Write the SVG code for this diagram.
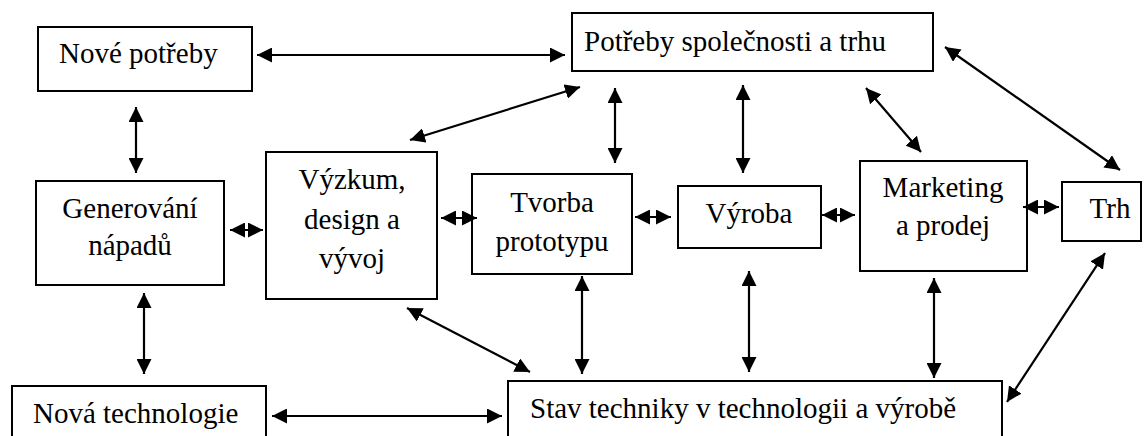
<svg xmlns="http://www.w3.org/2000/svg" width="1144" height="436" viewBox="0 0 1144 436">
  <style>
    .box { fill: #ffffff; stroke: #000000; stroke-width: 2; }
    .lbl { font-family: "Liberation Serif", "Noto Serif", "DejaVu Serif", "Times New Roman", Times, serif; font-size: 29px; fill: #000000; }
    .mid { text-anchor: middle; }
    .conn line { stroke: #000000; stroke-width: 2.2; marker-start: url(#ah); marker-end: url(#ah); }
  </style>
  <defs>
    <marker id="ah" markerUnits="userSpaceOnUse" markerWidth="15" markerHeight="15" refX="15" refY="7.5" orient="auto-start-reverse" viewBox="0 0 15 15">
      <path d="M0,0 L15,7.5 L0,15 z" fill="#000000"/>
    </marker>
  </defs>
  <rect width="1144" height="436" fill="#ffffff"/>

  <g id="nove-potreby">
    <rect class="box" x="38" y="27" width="214" height="64"/>
    <text class="lbl" x="59" y="63">Nové potřeby</text>
  </g>
  <g id="potreby-spolecnosti">
    <rect class="box" x="572" y="13" width="361" height="58"/>
    <text class="lbl" x="584" y="51">Potřeby společnosti a trhu</text>
  </g>
  <g id="generovani">
    <rect class="box" x="36" y="181" width="188" height="104"/>
    <text class="lbl mid" x="130" y="218">Generování</text>
    <text class="lbl mid" x="130" y="255">nápadů</text>
  </g>
  <g id="vyzkum">
    <rect class="box" x="266" y="152" width="171" height="147"/>
    <text class="lbl mid" x="352" y="189">Výzkum,</text>
    <text class="lbl mid" x="352" y="229">design a</text>
    <text class="lbl mid" x="352" y="268">vývoj</text>
  </g>
  <g id="tvorba">
    <rect class="box" x="472" y="174" width="160" height="100"/>
    <text class="lbl mid" x="552" y="212">Tvorba</text>
    <text class="lbl mid" x="552" y="251">prototypu</text>
  </g>
  <g id="vyroba">
    <rect class="box" x="678" y="186" width="143" height="62"/>
    <text class="lbl mid" x="749" y="223">Výroba</text>
  </g>
  <g id="marketing">
    <rect class="box" x="860" y="161" width="167" height="110"/>
    <text class="lbl mid" x="943" y="197">Marketing</text>
    <text class="lbl mid" x="943" y="235">a prodej</text>
  </g>
  <g id="trh">
    <rect class="box" x="1062" y="182" width="79" height="59"/>
    <text class="lbl mid" x="1110" y="218">Trh</text>
  </g>
  <g id="nova-technologie">
    <rect class="box" x="12" y="386" width="254" height="60"/>
    <text class="lbl" x="33" y="423">Nová technologie</text>
  </g>
  <g id="stav-techniky">
    <rect class="box" x="508" y="381" width="494" height="60"/>
    <text class="lbl" x="530" y="418">Stav techniky v technologii a výrobě</text>
  </g>

  <g id="connectors" class="conn">
    <line x1="257" y1="55" x2="565" y2="55"/>
    <line x1="136" y1="107" x2="136" y2="173"/>
    <line x1="144" y1="293" x2="144" y2="374"/>
    <line x1="272" y1="416" x2="502" y2="416"/>
    <line x1="230" y1="230" x2="263" y2="230"/>
    <line x1="441" y1="218" x2="477" y2="218"/>
    <line x1="635" y1="217" x2="671" y2="217"/>
    <line x1="822" y1="215" x2="855" y2="215"/>
    <line x1="1023" y1="207" x2="1059" y2="207"/>
    <line x1="410" y1="140" x2="580" y2="87"/>
    <line x1="615" y1="88" x2="615" y2="163"/>
    <line x1="743" y1="85" x2="743" y2="173"/>
    <line x1="866" y1="88" x2="921" y2="152"/>
    <line x1="945" y1="47" x2="1120" y2="170"/>
    <line x1="407" y1="308" x2="530" y2="372"/>
    <line x1="582" y1="276" x2="582" y2="374"/>
    <line x1="749" y1="271" x2="749" y2="372"/>
    <line x1="934" y1="278" x2="934" y2="378"/>
    <line x1="1105" y1="253" x2="1007" y2="402"/>
  </g>
</svg>
